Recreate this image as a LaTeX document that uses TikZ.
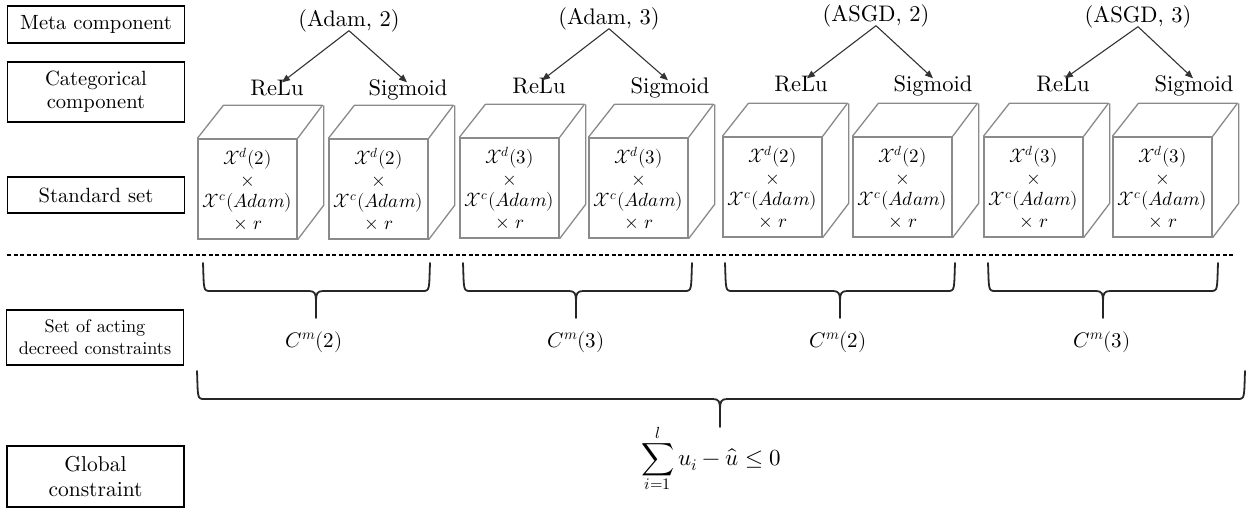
\documentclass[tikz,border=0pt]{standalone}
\usepackage{fontspec}
\usepackage{unicode-math}
\setmainfont{lmroman10-regular.otf}
\setmathfont{Latin Modern Math}
\usetikzlibrary{arrows.meta,calc}
\definecolor{cubegray}{HTML}{8A8A8A}
\definecolor{arrgray}{HTML}{333333}
\tikzset{
 lbl/.style={draw=black, line width=1.1pt, minimum width=177pt, inner sep=0pt, align=center, font=\fontsize{20.6}{23}\selectfont},
 meta/.style={inner sep=1pt, text height=0.75em, text depth=0.25em, font=\fontsize{22.5}{26}\selectfont, anchor=base},
 cat/.style={inner xsep=1pt, inner ysep=6pt, text height=0.75em, text depth=0.25em, font=\fontsize{22.5}{26}\selectfont, anchor=base},
 arr/.style={draw=arrgray, line width=1.1pt, -{Triangle[length=8pt,width=6.5pt]}},
 front/.style={draw=cubegray, line width=1.3pt, minimum width=99pt, minimum height=100pt, inner sep=0pt, align=center, font=\fontsize{19}{21.7}\selectfont},
 cubeedge/.style={draw=cubegray, line width=1.3pt, line join=round},
 bracepath/.style={draw=black!85, line width=1.8pt, line cap=round, line join=round},
 cmlabel/.style={font=\fontsize{21}{25}\selectfont},
 sepline/.style={draw=black, line width=1.4pt, dash pattern=on 4pt off 2.5pt},
}
\newcommand\mycube[4]{%
 \node[front] (#1) at (#2,#3) {#4};
 \draw[cubeedge] (#1.north west) -- ++(26,-33) -- ++(99,0) -- (#1.north east)
   (#1.north east) ++(26,-33) -- ++(0,100) -- (#1.south east);
}
\newcommand\mybrace[6]{%
 \draw[bracepath] (#1,#4) .. controls (#1+1,#5-2) and (#1,#5) .. (#1+7,#5) -- (#3-7,#5)
   .. controls (#3-1,#5) and (#3,#5+3) .. (#3,#5+10) -- (#3,#6);
 \draw[bracepath] (#2,#4) .. controls (#2-1,#5-2) and (#2,#5) .. (#2-7,#5) -- (#3+7,#5)
   .. controls (#3+1,#5) and (#3,#5+3) .. (#3,#5+10);
}
\newcommand\celltext[2]{$\mathcal{X}^d(#1)$\\$\times$\\$\mathcal{X}^c(#2)$\\$\times\;r$}
\begin{document}
\begin{tikzpicture}[x=1pt,y=-1pt]
\useasboundingbox (0,0) rectangle (1249,508);
% left labels
\node[lbl, minimum height=37pt] (Lmeta) at (96,24.5) {Meta component};
\node[lbl, minimum height=60pt] (Lcat) at (96,92) {Categorical\\component};
\node[lbl, minimum height=36pt] (Lstd) at (96,195) {Standard set};
\node[lbl, minimum height=55pt, font=\fontsize{18.2}{22}\selectfont] (Lact) at (95,337.5) {Set of acting\\decreed constraints};
\node[lbl, minimum height=61pt, font=\fontsize{21.5}{25}\selectfont] (Lglob) at (95.5,476.5) {Global\\constraint};
% meta components
\node[meta] (m1) at (349,27) {(Adam, 2)};
\node[meta] (m2) at (609,25) {(Adam, 3)};
\node[meta] (m3) at (876,22) {(ASGD, 2)};
\node[meta] (m4) at (1138,23) {(ASGD, 3)};
% categorical components
\node[cat] (r1) at (277,96) {ReLu};
\node[cat] (s1) at (408,96) {Sigmoid};
\node[cat] (r2) at (539,94) {ReLu};
\node[cat] (s2) at (670,94) {Sigmoid};
\node[cat] (r3) at (801,92) {ReLu};
\node[cat] (s3) at (933,92) {Sigmoid};
\node[cat] (r4) at (1063,92) {ReLu};
\node[cat] (s4) at (1194,92) {Sigmoid};
% arrows
\draw[arr] (m1.south) -- ([xshift=5pt]r1.north);
\draw[arr] (m1.south) -- ([xshift=-1pt]s1.north);
\draw[arr] (m2.south) -- ([xshift=3pt]r2.north);
\draw[arr] (m2.south) -- ([xshift=-2pt]s2.north);
\draw[arr] (m3.south) -- ([xshift=6pt]r3.north);
\draw[arr] (m3.south) -- (s3.north);
\draw[arr] (m4.south) -- ([xshift=2pt]r4.north);
\draw[arr] (m4.south) -- ([xshift=-1pt]s4.north);
% cubes
\mycube{k1}{247.5}{189}{\celltext{2}{Adam}}
\mycube{k2}{378.5}{189}{\celltext{2}{Adam}}
\mycube{k3}{509.5}{188}{\celltext{3}{Adam}}
\mycube{k4}{638.5}{188}{\celltext{3}{Adam}}
\mycube{k5}{772.5}{187}{\celltext{2}{Adam}}
\mycube{k6}{902.5}{187}{\celltext{2}{Adam}}
\mycube{k7}{1033.5}{187}{\celltext{3}{Adam}}
\mycube{k8}{1162.5}{187}{\celltext{3}{Adam}}
% separator
\draw[sepline] (7,255) -- (1235,255);
% braces
\mybrace{203}{430}{316}{263}{291}{318}
\mybrace{463}{692}{576}{263}{291}{318}
\mybrace{725}{955}{840}{263}{291}{318}
\mybrace{988}{1218}{1103}{263}{291}{318}
\mybrace{197}{1245}{720}{371}{399}{427}
% constraint labels
\node[cmlabel] (c1) at (314,342) {$C^m(2)$};
\node[cmlabel] (c2) at (576,342) {$C^m(3)$};
\node[cmlabel] (c3) at (838,342) {$C^m(2)$};
\node[cmlabel] (c4) at (1102,342) {$C^m(3)$};
\node[anchor=base, font=\fontsize{23}{28}\selectfont] (sum) at (711,465) {$\displaystyle\sum_{i=1}^{l} u_i-\hat{u}\le 0$};
\end{tikzpicture}
\end{document}
